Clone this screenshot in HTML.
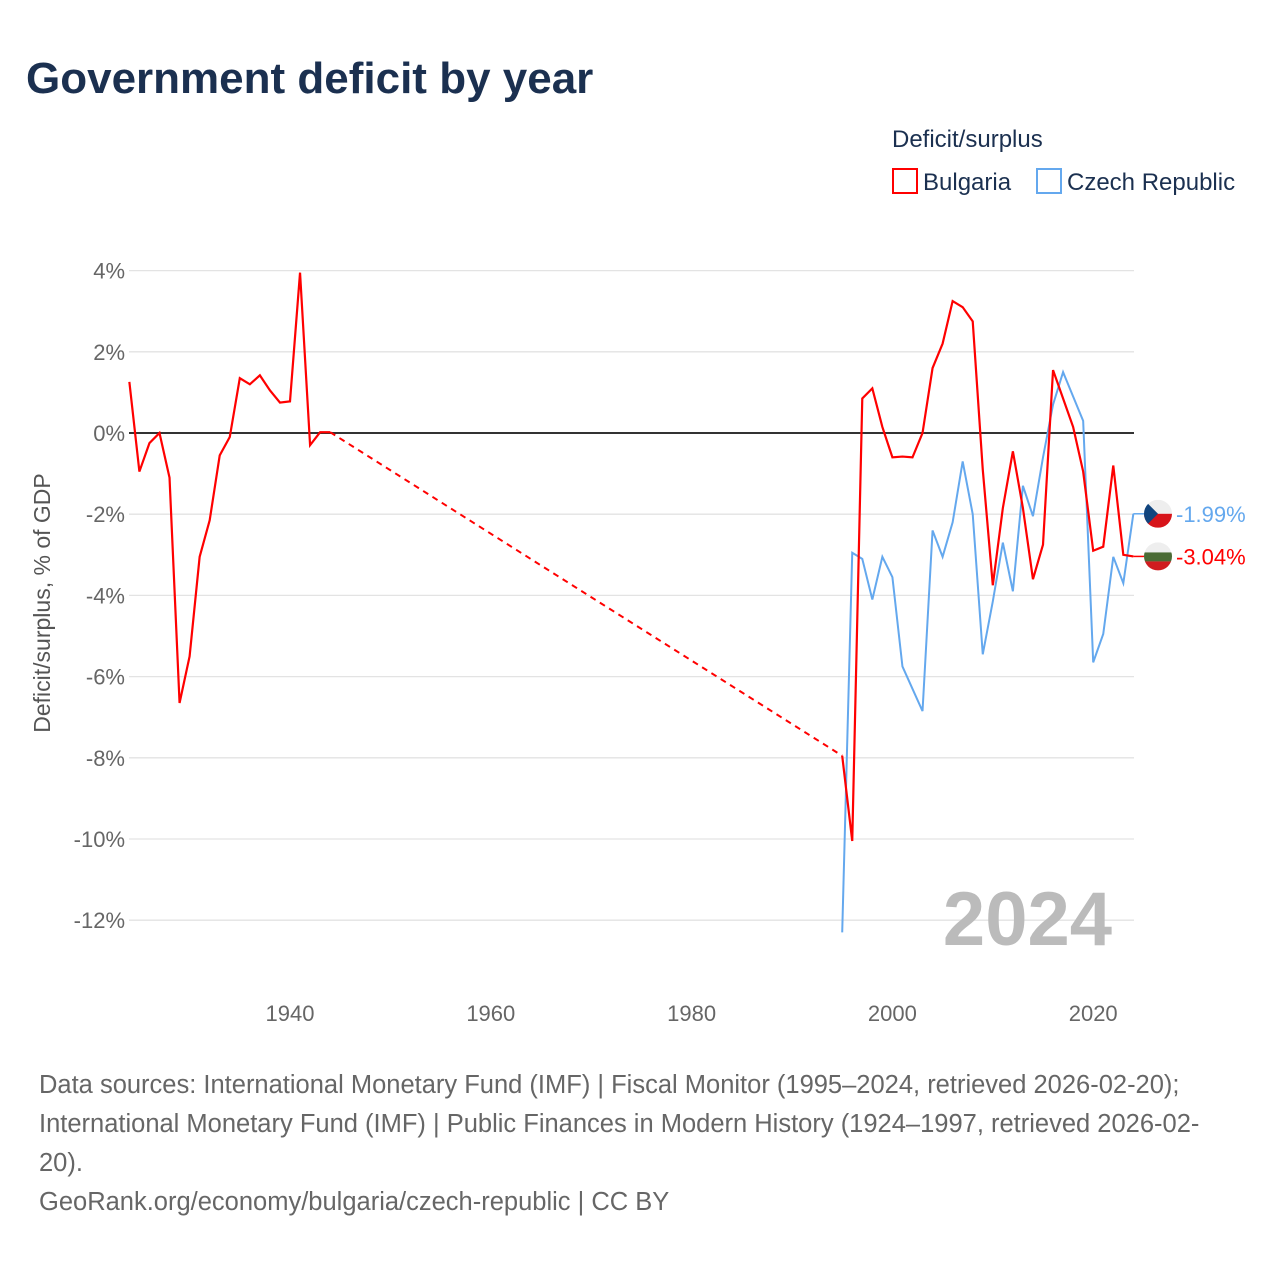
<!DOCTYPE html>
<html><head><meta charset="utf-8"><style>
body{margin:0;background:#fff;font-family:"Liberation Sans",sans-serif}
</style></head><body>
<svg width="1280" height="1280" xmlns="http://www.w3.org/2000/svg" style="font-family:'Liberation Sans',sans-serif">
<text x="26" y="93" font-size="44" font-weight="bold" fill="#1b3050">Government deficit by year</text>
<text x="892" y="147" font-size="24" fill="#1b3050">Deficit/surplus</text>
<g><rect x="893" y="169" width="24" height="24" fill="none" stroke="#f00" stroke-width="2"/><text x="923" y="190" font-size="24" fill="#1b3050">Bulgaria</text></g>
<g><rect x="1037" y="169" width="24" height="24" fill="none" stroke="#64a8ee" stroke-width="2"/><text x="1067" y="190" font-size="24" fill="#1b3050">Czech Republic</text></g>
<g id="grid"></g><g id="series"></g>
<text transform="translate(50,603) rotate(-90)" text-anchor="middle" font-size="23" fill="#555">Deficit/surplus, % of GDP</text>
<text x="1112" y="945" text-anchor="end" font-size="76" font-weight="bold" fill="#bbb">2024</text>
<text x="39" y="1093" font-size="25.5" fill="#666"><tspan x="39" y="1093">Data sources: International Monetary Fund (IMF) | Fiscal Monitor (1995–2024, retrieved 2026-02-20);</tspan><tspan x="39" y="1132">International Monetary Fund (IMF) | Public Finances in Modern History (1924–1997, retrieved 2026-02-</tspan><tspan x="39" y="1171">20).</tspan><tspan x="39" y="1210">GeoRank.org/economy/bulgaria/czech-republic | CC BY</tspan></text>
</svg>
<script>
const yTicks=[4,2,0,-2,-4,-6,-8,-10,-12];
const xTicks=[1940,1960,1980,2000,2020];
const bgYears1=[1924,1925,1926,1927,1928,1929,1930,1931,1932,1933,1934,1935,1936,1937,1938,1939,1940,1941,1942,1943,1944];
const bgVals1=[1.26,-0.95,-0.25,0,-1.1,-6.65,-5.5,-3.05,-2.15,-0.55,-0.1,1.35,1.2,1.42,1.05,0.75,0.78,3.95,-0.3,0.02,0.02];
const bgYears2=[1995,1996,1997,1998,1999,2000,2001,2002,2003,2004,2005,2006,2007,2008,2009,2010,2011,2012,2013,2014,2015,2016,2017,2018,2019,2020,2021,2022,2023,2024];
const bgVals2=[-7.95,-10.05,0.85,1.1,0.15,-0.6,-0.58,-0.6,0,1.6,2.2,3.25,3.1,2.75,-0.9,-3.75,-1.85,-0.45,-1.85,-3.6,-2.75,1.55,0.85,0.15,-0.95,-2.9,-2.8,-0.8,-3.0,-3.04];
const czYears=bgYears2;
const czVals=[-12.3,-2.95,-3.1,-4.1,-3.05,-3.55,-5.75,-6.3,-6.85,-2.4,-3.05,-2.2,-0.7,-2.0,-5.45,-4.15,-2.7,-3.9,-1.3,-2.05,-0.6,0.7,1.5,0.9,0.3,-5.65,-4.95,-3.05,-3.7,-1.99];
const X=y=>290+(y-1940)*10.04, Y=v=>433-v*40.6;
const NS="http://www.w3.org/2000/svg";
function mk(t,a,p){const e=document.createElementNS(NS,t);for(const k in a)e.setAttribute(k,a[k]);p.appendChild(e);return e;}
const g=document.getElementById('grid'),s=document.getElementById('series');
yTicks.forEach(v=>{const l=mk('line',{x1:129,x2:1134,y1:Y(v),y2:Y(v),stroke:v===0?'#333':'#e3e3e3','stroke-width':v===0?2:1.3},g);


const t=mk('text',{x:125,y:Y(v)+8,'text-anchor':'end','font-size':22,fill:'#666'},g);t.textContent=v+'%';

});
xTicks.forEach(y=>{const t=mk('text',{x:X(y),y:1021,'text-anchor':'middle','font-size':22,fill:'#666'},g);t.textContent=y;

});
const pts=(ys,vs)=>ys.map((y,i)=>X(y)+','+Y(vs[i])).join(' ');
let p=mk('polyline',{points:pts(bgYears1,bgVals1),fill:'none',stroke:'#f00','stroke-width':2.2},s);


p=mk('polyline',{points:pts([bgYears1[bgYears1.length-1],bgYears2[0]],[bgVals1[bgVals1.length-1],bgVals2[0]]),fill:'none',stroke:'#f00','stroke-width':2,'stroke-dasharray':'6,5'},s);


p=mk('polyline',{points:pts(czYears,czVals),fill:'none',stroke:'#64a8ee','stroke-width':2},s);


p=mk('polyline',{points:pts(bgYears2,bgVals2),fill:'none',stroke:'#f00','stroke-width':2.2},s);


function endLabel(v,col,txt,name,flag){const yy=Y(v);
mk('line',{x1:X(2024),x2:1144,y1:yy,y2:yy,stroke:col,'stroke-width':1.5},s);
const f=mk('g',{},s);
const cid='c'+name;const cp=mk('clipPath',{id:cid},f);mk('circle',{cx:1158,cy:yy,r:14},cp);
const fg=mk('g',{'clip-path':'url(#'+cid+')'},f);
if(flag==='cz'){mk('rect',{x:1144,y:yy-14,width:28,height:14,fill:'#eee'},fg);mk('rect',{x:1144,y:yy,width:28,height:14,fill:'#d7141a'},fg);mk('polygon',{points:`1144,${yy-14} 1158,${yy} 1144,${yy+14}`,fill:'#11457e'},fg);}
else{mk('rect',{x:1144,y:yy-14,width:28,height:10,fill:'#eee'},fg);mk('rect',{x:1144,y:yy-4,width:28,height:9,fill:'#4a6b35'},fg);mk('rect',{x:1144,y:yy+5,width:28,height:10,fill:'#d01c1f'},fg);}
const t=mk('text',{x:1176,y:yy+8,'font-size':22,fill:col},s);t.textContent=txt;

}
endLabel(czVals[czVals.length-1],'#64a8ee','-1.99%','czech','cz');
endLabel(bgVals2[bgVals2.length-1],'#f00','-3.04%','bulgaria','bg');
</script>
</body></html>
